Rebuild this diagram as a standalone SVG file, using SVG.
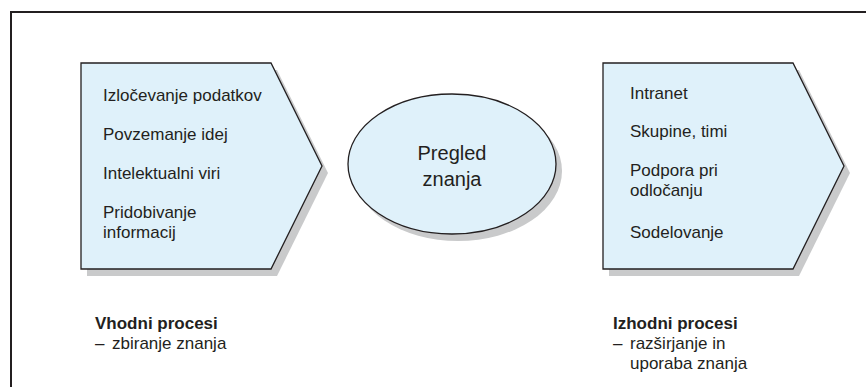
<svg xmlns="http://www.w3.org/2000/svg" width="866" height="387" viewBox="0 0 866 387">
<style>
.shadow{fill:#c9cacb;stroke:none}
.shape{fill:#dff1fa;stroke:#231f20;stroke-width:1.3}
.t{font-family:"Liberation Sans",Arial,sans-serif;font-size:17px;fill:#231f20}
.b{font-weight:bold}
.c{font-size:20px;text-anchor:middle}
</style>
<rect width="866" height="387" fill="#ffffff"/>
<path d="M11,387 V12 H866" fill="none" stroke="#231f20" stroke-width="2"/>
<g id="vhodni">
<path class="shadow" d="M87,70 H277 L328,173 L277,276 H87 Z"/>
<path class="shape" d="M81,63 H271 L322,166 L271,269 H81 Z"/>
<text class="t" x="103" y="101">Izločevanje podatkov</text>
<text class="t" x="103" y="140">Povzemanje idej</text>
<text class="t" x="103" y="179">Intelektualni viri</text>
<text class="t" x="103" y="218">Pridobivanje</text>
<text class="t" x="103" y="238">informacij</text>
</g>
<g id="pregled">
<ellipse class="shadow" cx="458" cy="171" rx="104" ry="70"/>
<ellipse class="shape" cx="452" cy="164" rx="104" ry="70"/>
<text class="t c" x="452" y="160">Pregled</text>
<text class="t c" x="452" y="186">znanja</text>
</g>
<g id="izhodni">
<path class="shadow" d="M609,70 H799 L850,173 L799,276 H609 Z"/>
<path class="shape" d="M603,63 H793 L844,166 L793,269 H603 Z"/>
<text class="t" x="630" y="99">Intranet</text>
<text class="t" x="630" y="137">Skupine, timi</text>
<text class="t" x="630" y="176">Podpora pri</text>
<text class="t" x="630" y="196">odločanju</text>
<text class="t" x="630" y="238">Sodelovanje</text>
</g>
<g id="oznaka-vhod">
<text class="t b" x="95" y="329">Vhodni procesi</text>
<text class="t" x="95" y="349">–</text>
<text class="t" x="112" y="349">zbiranje znanja</text>
</g>
<g id="oznaka-izhod">
<text class="t b" x="613" y="329">Izhodni procesi</text>
<text class="t" x="613" y="349">–</text>
<text class="t" x="630" y="349">razširjanje in</text>
<text class="t" x="630" y="369">uporaba znanja</text>
</g>
<g id="connectors"></g>
</svg>
